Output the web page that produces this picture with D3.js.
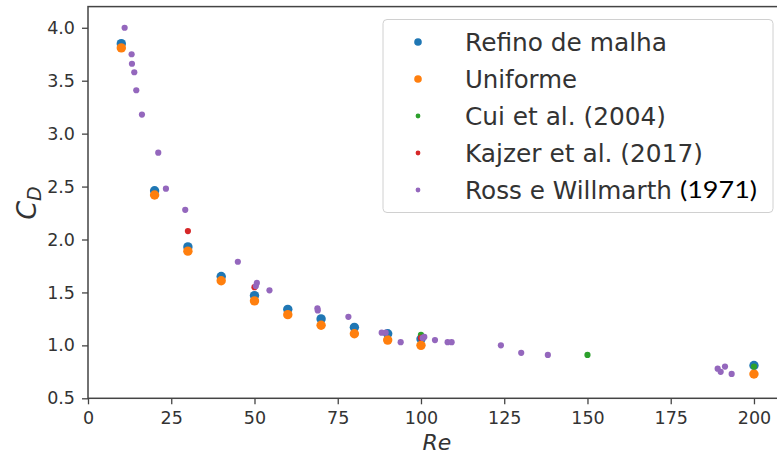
<!DOCTYPE html>
<html>
<head>
<meta charset="utf-8">
<script src="https://cdn.jsdelivr.net/npm/d3@7"></script>
<style>
  html, body { margin: 0; padding: 0; background: #fff; }
  svg { display: block; }
</style>
</head>
<body>
<svg id="chart" width="777" height="456"></svg>
<script>
// Drag coefficient of a sphere versus Reynolds number

// Simulation: mesh refinement
const reRefino = [10, 20, 30, 40, 50, 60, 70, 80, 90, 100, 200];
const cdRefino = [3.85, 2.46, 1.93, 1.65, 1.47, 1.34, 1.25, 1.17, 1.11, 1.06, 0.81];

// Simulation: uniform mesh
const reUniforme = [10, 20, 30, 40, 50, 60, 70, 80, 90, 100, 200];
const cdUniforme = [3.81, 2.42, 1.89, 1.61, 1.42, 1.29, 1.19, 1.11, 1.05, 1.00, 0.73];

// Cui et al. (2004)
const reCui = [100, 150, 200];
const cdCui = [1.10, 0.91, 0.80];

// Kajzer et al. (2017)
const reKajzer = [30, 50, 100];
const cdKajzer = [2.08, 1.55, 1.07];

// Ross e Willmarth (1971)
const reRoss = [11.0, 13.1, 13.2, 13.9, 14.5, 16.2, 21.1, 23.4, 29.2, 45.0, 50.7, 50.4,
                54.5, 68.9, 69.0, 78.2, 88.2, 89.4, 93.9, 101.0, 100.5, 104.2, 108.0, 109.2,
                124.0, 130.1, 138.1, 189.1, 190.0, 191.3, 193.3];
const cdRoss = [4.00, 3.75, 3.66, 3.58, 3.41, 3.18, 2.82, 2.48, 2.28, 1.79, 1.59, 1.56,
                1.52, 1.35, 1.33, 1.27, 1.12, 1.12, 1.03, 1.08, 1.07, 1.05, 1.03, 1.03,
                1.00, 0.93, 0.91, 0.78, 0.75, 0.80, 0.73];

const xTicks = [0, 25, 50, 75, 100, 125, 150, 175, 200];
const yTicks = [0.5, 1.0, 1.5, 2.0, 2.5, 3.0, 3.5, 4.0];

const seriesNames = ["Refino de malha", "Uniforme", "Cui et al. (2004)", "Kajzer et al. (2017)", "Ross e Willmarth"];

// Legend label widths (px), so the entries keep a fixed layout
const legendWidths = [202, 112, 201, 238, 207];

const series = [
  { name: seriesNames[0], re: reRefino,   cd: cdRefino,   color: "#1f77b4", r: 4.7 },
  { name: seriesNames[1], re: reUniforme, cd: cdUniforme, color: "#ff7f0e", r: 4.7 },
  { name: seriesNames[2], re: reCui,      cd: cdCui,      color: "#2ca02c", r: 3.1 },
  { name: seriesNames[3], re: reKajzer,   cd: cdKajzer,   color: "#d62728", r: 3.1 },
  { name: seriesNames[4], re: reRoss,     cd: cdRoss,     color: "#9467bd", r: 3.1 }
];

const svg = d3.select("#chart");
const plotLeft = 88, plotRight = 785.6, plotTop = 6.6, plotBottom = 398.3;

const x = d3.scaleLinear().domain([0, 209.5]).range([plotLeft, plotRight]);
const y = d3.scaleLinear().domain([0.5, 4.2]).range([plotBottom, plotTop]);

const font = "'DejaVu Sans', sans-serif";
const ink = "#333";

// Markers
series.forEach(s => {
  svg.append("g")
    .selectAll("circle")
    .data(s.re.map((re, i) => [re, s.cd[i]]))
    .join("circle")
    .attr("cx", d => x(d[0]))
    .attr("cy", d => y(d[1]))
    .attr("r", s.r)
    .attr("fill", s.color);
});

// Frame
svg.append("rect")
  .attr("x", plotLeft).attr("y", plotTop)
  .attr("width", plotRight - plotLeft).attr("height", plotBottom - plotTop)
  .attr("fill", "none").attr("stroke", "#444").attr("stroke-width", 1.5);

// Axes
const xAxis = svg.append("g")
  .attr("transform", `translate(0,${plotBottom})`)
  .call(d3.axisBottom(x).tickValues(xTicks).tickFormat(d3.format("d")).tickSize(6).tickPadding(7));
const yAxis = svg.append("g")
  .attr("transform", `translate(${plotLeft},0)`)
  .call(d3.axisLeft(y).tickValues(yTicks).tickFormat(d3.format(".1f")).tickSize(6).tickPadding(7));

[xAxis, yAxis].forEach(a => {
  a.select(".domain").remove();
  a.selectAll(".tick line").attr("stroke", "#444").attr("stroke-width", 1.3);
  a.selectAll(".tick text")
    .attr("fill", ink)
    .style("font-family", font)
    .style("font-size", "17.5px");
});

// Axis titles
svg.append("text")
  .attr("x", 437).attr("y", 450)
  .attr("text-anchor", "middle")
  .style("font-family", font).style("font-style", "italic").style("font-size", "22px")
  .attr("fill", ink)
  .text("Re");

const yl = svg.append("text")
  .attr("transform", "translate(36,203) rotate(-90)")
  .attr("text-anchor", "middle")
  .style("font-family", font).style("font-style", "italic").style("font-size", "27px")
  .attr("fill", ink);
yl.append("tspan").text("C");
yl.append("tspan").attr("dy", "0.27em").style("font-size", "19px").text("D");

// Legend
const lg = svg.append("g");
lg.append("rect")
  .attr("x", 383).attr("y", 19.5)
  .attr("width", 390).attr("height", 193)
  .attr("rx", 4).attr("ry", 4)
  .attr("fill", "#fff").attr("fill-opacity", 0.85)
  .attr("stroke", "#d0d0d0").attr("stroke-width", 1);

const rowY = [42, 79, 116, 153, 190];
series.forEach((s, i) => {
  lg.append("circle")
    .attr("cx", 418).attr("cy", rowY[i])
    .attr("r", i < 2 ? 3.8 : 2.4)
    .attr("fill", s.color);
  lg.append("text")
    .attr("x", 465).attr("y", rowY[i])
    .attr("dy", "0.36em")
    .attr("textLength", legendWidths[i]).attr("lengthAdjust", "spacingAndGlyphs")
    .style("font-family", font).style("font-size", "24.6px")
    .attr("fill", ink)
    .text(s.name);
});
lg.append("text")
  .attr("x", 680).attr("y", rowY[4])
  .attr("dy", "0.36em")
  .attr("textLength", 77).attr("lengthAdjust", "spacingAndGlyphs")
  .style("font-family", "Lato, 'Open Sans', sans-serif").style("font-size", "23px")
  .attr("fill", "#000")
  .text("(1971)");
</script>
</body>
</html>
